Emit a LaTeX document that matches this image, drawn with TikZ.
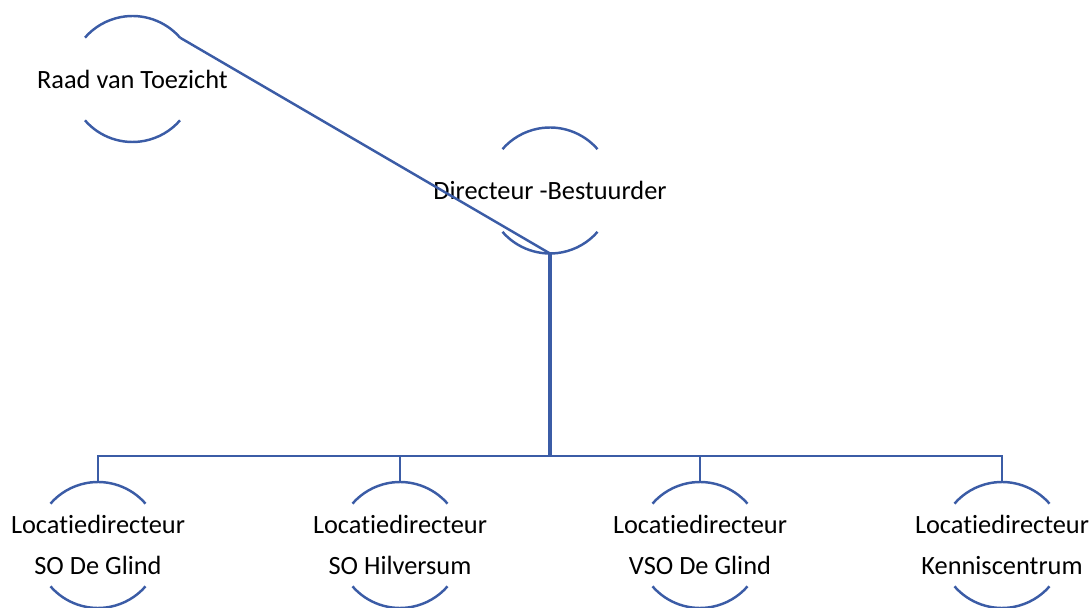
\documentclass[tikz,border=0pt]{standalone}
\usepackage{fontspec}
\setmainfont[Ligatures=NoCommon]{Carlito}
\usepackage{tikz}
\usetikzlibrary{positioning}
\definecolor{orgblue}{RGB}{59,92,166}

\begin{document}
\begin{tikzpicture}[
  every node/.style={font=\fontsize{15}{23.8}\selectfont, align=center},
  unit/.style={circle, minimum size=2.52cm, inner sep=0pt, outer sep=0pt},
  arcline/.style={draw=orgblue, line width=1.4pt},
  link/.style={draw=orgblue, line width=1.4pt},
  trunk/.style={draw=orgblue, line width=2pt}
]
\useasboundingbox (0,0) rectangle (21.84,-12.16);

\node[unit, label=center:{Raad van Toezicht}] (rvt) at (2.65,-1.58) {};
\node[unit, label=center:{Directeur -Bestuurder}] (dir) at (11.0,-3.81) {};
\node[unit, label=center:{Locatiedirecteur\\SO De Glind}] (l1) at (1.96,-10.9) {};
\node[unit, label=center:{Locatiedirecteur\\SO Hilversum}] (l2) at (8.0,-10.9) {};
\node[unit, label=center:{Locatiedirecteur\\VSO De Glind}] (l3) at (14.0,-10.9) {};
\node[unit, label=center:{Locatiedirecteur\\Kenniscentrum}] (l4) at (20.04,-10.9) {};
\coordinate (bus) at (11.0,-9.12);

% open circles
\foreach \n in {rvt,dir,l1,l2,l3,l4}
  \draw[arcline] (\n.41) arc (41:139:1.26cm) (\n.221) arc (221:319:1.26cm);

\draw[link] (rvt.41) -- (dir.south);
\draw[trunk] (dir.south) -- (bus);
\draw[link] (l1.north) |- (l4.north |- bus) -- (l4.north);
\draw[link] (l2.north) -- (l2.north |- bus);
\draw[link] (l3.north) -- (l3.north |- bus);
\end{tikzpicture}
\end{document}
